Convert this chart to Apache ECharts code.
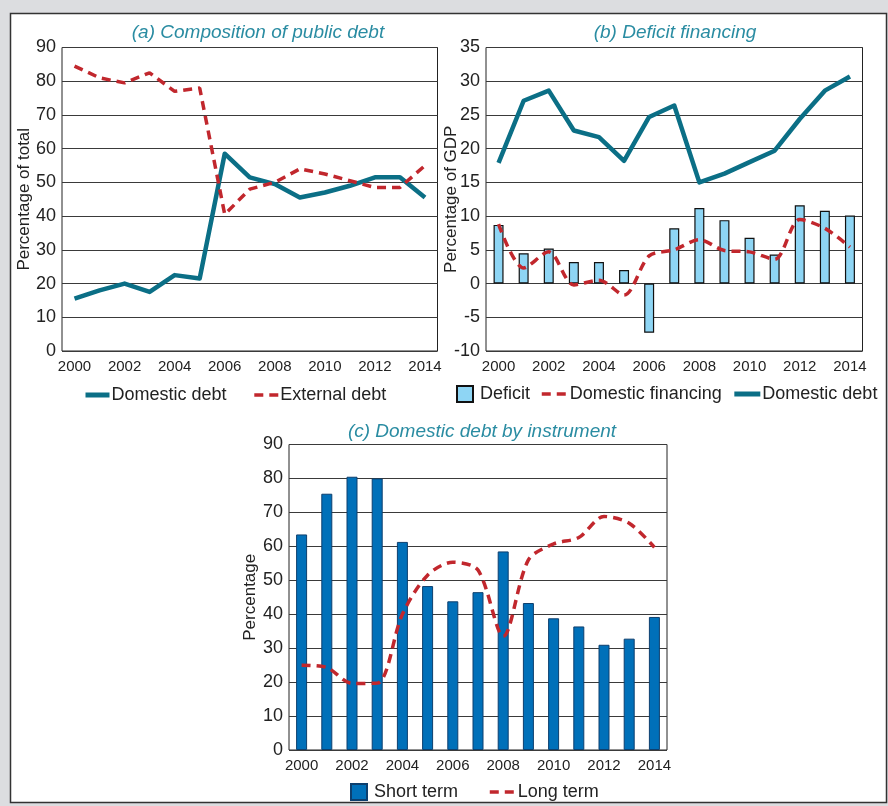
<!DOCTYPE html>
<html lang="en">
<head>
    <meta charset="UTF-8">
    <script src="https://cdn.jsdelivr.net/npm/echarts@6/dist/echarts.min.js"></script>
    <title>Public debt</title>
    <style>
        body { margin: 0; }
    </style>
</head>
<body>
<div id="main" style="width: 888px;height: 806px"></div>
<script type="text/javascript">
    // years on every x axis
    var years = ['2000', '2001', '2002', '2003', '2004', '2005', '2006', '2007',
        '2008', '2009', '2010', '2011', '2012', '2013', '2014'];

    // (a) composition of public debt, % of total
    var domesticShare = [15.5, 18, 20, 17.5, 22.5, 21.5, 58.5, 51.5, 49.5, 45.5, 47, 49, 51.5, 51.5, 45.5];
    var externalShare = [84.5, 81, 79.5, 82.5, 77, 78, 40.5, 48, 50, 54, 52.5, 50.5, 48.5, 48.5, 55];

    // (b) deficit financing, % of GDP
    var deficit = [8.7, 4.5, 5.2, 3.2, 3.2, 2.0, -7.3, 8.2, 11.2, 9.4, 6.8, 4.3, 11.6, 10.8, 10.1];
    var domesticFinancing = [8.8, 2.3, 4.7, -0.2, 0.5, -1.7, 4.1, 5.0, 6.5, 4.9, 4.7, 3.6, 9.5, 8.2, 5.4];
    var domesticDebtGdp = [17.9, 27.1, 28.6, 22.7, 21.7, 18.2, 24.7, 26.4, 15, 16.3, 18, 19.7, 24.4, 28.6, 30.7];

    // (c) domestic debt by instrument, %
    var shortTerm = [63.5, 75.5, 80.5, 80, 61.3, 48.3, 43.8, 46.5, 58.5, 43.3, 38.8, 36.4, 31, 32.8, 39.2];
    var longTerm = [25, 24.3, 19.6, 19.7, 40, 51.5, 55.3, 53, 33.5, 56, 60.7, 62.6, 68.8, 66.8, 59.7];

    var teal = '#0b6f86';
    var red = '#c1272d';
    var titleColor = '#2a8ca2';
    var font = 'Liberation Sans';
    var txt = '#222';

    var squareIcon = 'path://M0,0L10,0L10,10L0,10Z';

    // legend entry for a line: hide the symbol, keep the line
    function lineItem(name, w) {
        return {name: name, itemStyle: {opacity: 0}, lineStyle: {width: w}};
    }

    function xAx(gi) {
        return {
            type: 'category', gridIndex: gi, data: years, boundaryGap: true,
            axisLine: {show: false}, axisTick: {show: false},
            axisLabel: {interval: 1, fontSize: 15, color: txt, fontFamily: font, margin: 8}
        };
    }

    function yAx(gi, min, max, step, name, gap) {
        return {
            type: 'value', gridIndex: gi, min: min, max: max, interval: step,
            name: name, nameLocation: 'middle', nameGap: gap, nameRotate: 90, nameMoveOverlap: false,
            nameTextStyle: {fontSize: 17, color: txt, fontFamily: font},
            axisLine: {show: false}, axisTick: {show: false},
            axisLabel: {fontSize: 18, color: txt, fontFamily: font, margin: 6},
            splitLine: {lineStyle: {color: '#3a3a3a', width: 1}}
        };
    }

    var legendText = {fontSize: 18, color: txt, fontFamily: font, padding: [0, 0, 0, -3]};

    var myChart = echarts.init(document.getElementById('main'));

    myChart.setOption({
        backgroundColor: '#dcdde0',
        animation: false,
        textStyle: {fontFamily: font},
        graphic: [{
            type: 'rect', z: -10,
            shape: {x: 10.5, y: 13.5, width: 876, height: 789},
            style: {fill: '#fff', stroke: '#333', lineWidth: 1.5}
        }],
        title: [
            {text: '(a) Composition of public debt', left: 253, top: 18, textAlign: 'center',
                textStyle: {fontSize: 19, fontStyle: 'italic', fontWeight: 'normal', color: titleColor, fontFamily: font}},
            {text: '(b) Deficit financing', left: 670, top: 18, textAlign: 'center',
                textStyle: {fontSize: 19, fontStyle: 'italic', fontWeight: 'normal', color: titleColor, fontFamily: font}},
            {text: '(c) Domestic debt by instrument', left: 477, top: 417, textAlign: 'center',
                textStyle: {fontSize: 19, fontStyle: 'italic', fontWeight: 'normal', color: titleColor, fontFamily: font}}
        ],
        legend: [
            {data: [lineItem('Domestic debt', 5), lineItem('External debt', 3.5)], left: 78, top: 381,
                itemWidth: 24, itemHeight: 14, itemGap: 26, textStyle: legendText},
            {data: [{name: 'Deficit', icon: squareIcon}, lineItem('Domestic financing', 3.5), lineItem('Domestic debt', 5)],
                left: 451, top: 380, width: 440, itemWidth: 26, itemHeight: 16, itemGap: 10, textStyle: legendText},
            {data: [{name: 'Short term', icon: squareIcon}, lineItem('Long term', 3.5)], left: 345, top: 778,
                itemWidth: 26, itemHeight: 16, itemGap: 30, textStyle: legendText}
        ],
        grid: [
            {left: 62, top: 47.5, width: 375.5, height: 303.5, show: true, borderColor: '#222', borderWidth: 1},
            {left: 486, top: 47.5, width: 376.5, height: 303.5, show: true, borderColor: '#222', borderWidth: 1},
            {left: 289, top: 444.5, width: 378, height: 305.5, show: true, borderColor: '#222', borderWidth: 1}
        ],
        xAxis: [xAx(0), xAx(1), xAx(2)],
        yAxis: [
            yAx(0, 0, 90, 10, 'Percentage of total', 29),
            yAx(1, -10, 35, 5, 'Percentage of GDP', 26),
            yAx(2, 0, 90, 10, 'Percentage', 30)
        ],
        series: [
            {
                name: 'Domestic debt', type: 'line', xAxisIndex: 0, yAxisIndex: 0, data: domesticShare,
                symbol: 'none', lineStyle: {color: teal, width: 4.5, join: 'round'}, itemStyle: {color: teal}
            },
            {
                name: 'External debt', type: 'line', xAxisIndex: 0, yAxisIndex: 0, data: externalShare,
                symbol: 'none', lineStyle: {color: red, width: 3.5, type: [9, 6]}, itemStyle: {color: red}
            },
            {
                name: 'Deficit', type: 'bar', xAxisIndex: 1, yAxisIndex: 1, data: deficit, barWidth: 10,
                itemStyle: {color: '#8ed5f4', borderColor: '#111', borderWidth: 1.2}
            },
            {
                name: 'Domestic financing', type: 'line', xAxisIndex: 1, yAxisIndex: 1, data: domesticFinancing,
                symbol: 'none', smooth: 0.3, lineStyle: {color: red, width: 3.5, type: [9, 6]}, itemStyle: {color: red}
            },
            {
                name: 'Domestic debt', type: 'line', xAxisIndex: 1, yAxisIndex: 1, data: domesticDebtGdp,
                symbol: 'none', lineStyle: {color: teal, width: 4.5, join: 'round'}, itemStyle: {color: teal}
            },
            {
                name: 'Short term', type: 'bar', xAxisIndex: 2, yAxisIndex: 2, data: shortTerm, barWidth: 11,
                itemStyle: {color: '#0070b9', borderColor: '#0d3f6e', borderWidth: 1}
            },
            {
                name: 'Long term', type: 'line', xAxisIndex: 2, yAxisIndex: 2, data: longTerm,
                symbol: 'none', smooth: 0.3, lineStyle: {color: red, width: 3.5, type: [9, 6]}, itemStyle: {color: red}
            }
        ]
    });
</script>
</body>
</html>
